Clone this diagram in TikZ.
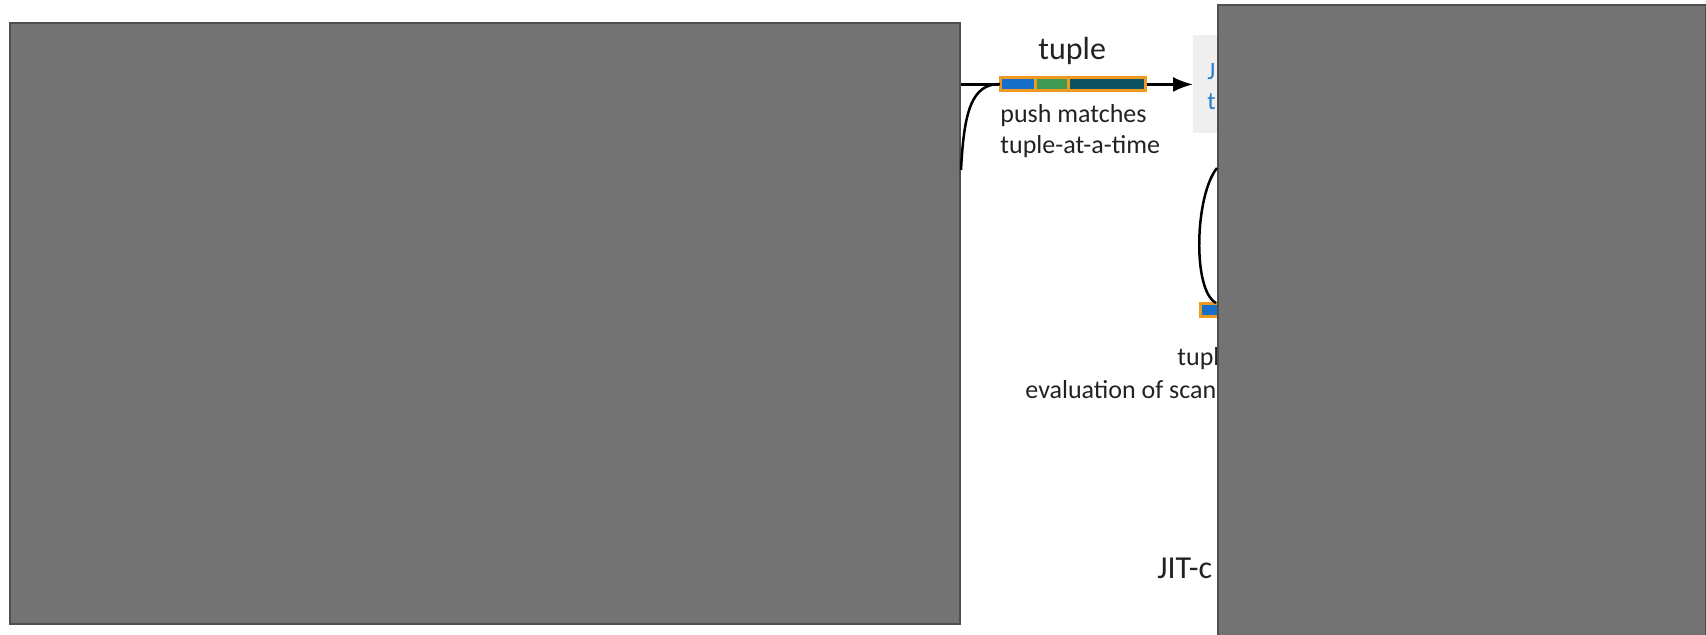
\documentclass[tikz,border=0pt]{standalone}
\usepackage{fontspec}
\setmainfont{Carlito}
\usetikzlibrary{positioning,arrows.meta}

\definecolor{paneback}{HTML}{737373}
\definecolor{paneedge}{HTML}{4F4F4F}
\definecolor{jitback}{HTML}{EFEFEF}
\definecolor{jitblue}{HTML}{2A7CC6}
\definecolor{tborder}{HTML}{EE9A22}
\definecolor{tblue}{HTML}{1770C8}
\definecolor{tgreen}{HTML}{3E9A52}
\definecolor{tteal}{HTML}{0C5262}
\definecolor{txt}{HTML}{222222}

\begin{document}
\begin{tikzpicture}[x=0.5pt,y=-0.5pt,
    pane/.style={draw=paneedge,line width=1pt,fill=paneback,inner sep=0pt,anchor=north west},
    seg/.style={draw=tborder,line width=1.5pt,inner sep=0pt,outer sep=0pt,minimum height=6.5pt},
    lbl/.style={font=\fontsize{13}{15.5}\selectfont,text=txt,inner sep=0pt},
    biglbl/.style={font=\fontsize{16}{19}\selectfont,text=txt,inner sep=0pt},
    flow/.style={line width=1.25pt}]
\clip (0,0) rectangle (1706,634);

% grey label box behind the arrow head
\node[fill=jitback,anchor=north west,inner sep=0pt,minimum width=40pt,minimum height=49pt] (jit) at (1193,35) {};
\node[font=\fontsize{12.5}{15}\selectfont,text=jitblue,inner sep=0pt,align=left,anchor=west] (jitlbl) at (1207,87) {J\\t};

\node[pane,minimum width=475pt,minimum height=300.5pt] (leftpane) at (9,22) {};

\draw[flow,-{Latex[length=10pt,width=7.5pt]}] (leftpane.east |- jit.west) -- (jit.west);

% tuple bar
\foreach \x/\w/\c/\n in {1000/17.5pt/tblue/t1, 1035/16.5pt/tgreen/t2, 1068/38.5pt/tteal/t3}
    \node[seg,fill=\c,minimum width=\w,anchor=west] (\n) at (\x,84) {};

\draw[flow] (leftpane.east |- 0,170) .. controls +(3,-60) and +(-28,0) .. (t1.west);

\node[biglbl,anchor=base west] (tuplelbl) at (1038,59) {tuple};
\node[lbl,align=left,below=7pt of t1.south west,anchor=north west] (pushlbl) {push matches\\tuple-at-a-time};

\node[seg,fill=tblue,minimum width=30pt,anchor=north west] (sbar) at (1200,303) {};
\node[lbl,anchor=base west] (evtuple) at (1177,365) {tuple};
\node[lbl,anchor=base west] (evscan) at (1025,398) {evaluation of scan};
\node[biglbl,anchor=base west] (jitc) at (1157,578) {JIT-c};

\node[pane,minimum width=244pt,minimum height=350pt] (rightpane) at (1217,4) {};

\draw[flow] (rightpane.west |- 0,168) .. controls (1195,195) and (1192,290) .. (1216,0 |- sbar.north);
\end{tikzpicture}
\end{document}
